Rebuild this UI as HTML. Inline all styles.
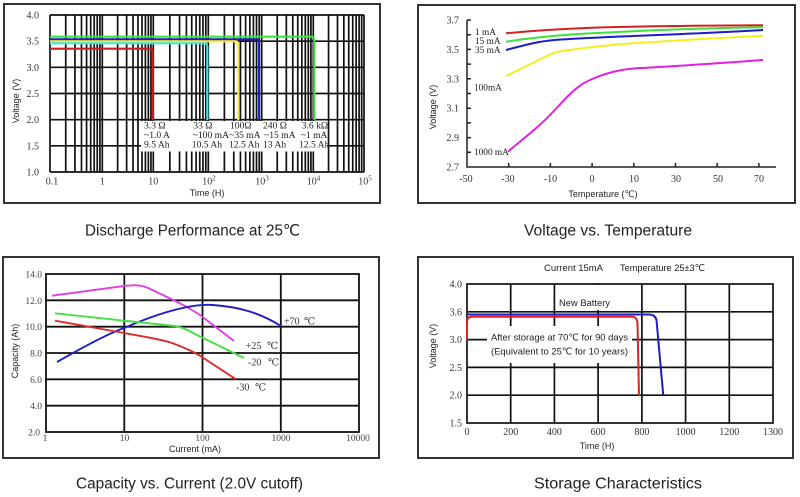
<!DOCTYPE html>
<html><head><meta charset="utf-8"><style>
html,body{margin:0;padding:0;background:#fff;}
svg{display:block;}
.sf{font-family:"Liberation Serif","DejaVu Serif","Noto Serif CJK SC",serif;}
.ss{font-family:"Liberation Sans","DejaVu Sans","Noto Sans CJK SC",sans-serif;}
</style></head><body>
<svg width="800" height="497" viewBox="0 0 800 497" xmlns="http://www.w3.org/2000/svg">
<rect width="800" height="497" fill="#fff"/>

<!-- ============ CHART 1 ============ -->
<rect x="4" y="4" width="376" height="199" fill="none" stroke="#333" stroke-width="2"/>
<g stroke="#111" stroke-width="1.7">
<path d="M50,15V172M65.74,15V172M74.95,15V172M81.49,15V172M86.56,15V172M90.7,15V172M94.2,15V172M97.23,15V172M99.91,15V172
M102.3,15V172M117.65,15V172M126.63,15V172M133.01,15V172M137.95,15V172M141.99,15V172M145.4,15V172M148.36,15V172M150.97,15V172
M153.3,15V172M169.86,15V172M179.54,15V172M186.41,15V172M191.74,15V172M196.1,15V172M199.78,15V172M202.97,15V172M205.78,15V172
M208.3,15V172M224.38,15V172M233.78,15V172M240.45,15V172M245.62,15V172M249.85,15V172M253.43,15V172M256.52,15V172M259.26,15V172
M261.7,15V172M277.23,15V172M286.32,15V172M292.77,15V172M297.77,15V172M301.85,15V172M305.31,15V172M308.3,15V172M310.94,15V172
M313.3,15V172M328.56,15V172M337.49,15V172M343.82,15V172M348.74,15V172M352.75,15V172M356.15,15V172M359.09,15V172M361.68,15V172M364,15V172"/>
<path d="M50,15H364M50,41.2H364M50,67.3H364M50,93.5H364M50,119.7H364M50,145.8H364M50,172H364"/>
</g>
<rect x="141" y="121" width="186" height="30.5" fill="#fff"/>
<g fill="none" stroke-width="2.2">
<path d="M50,36.7H311Q314.3,36.7 314.3,40V120" stroke="#3ee03e"/>
<path d="M50,39.3H256Q259,39.3 259,42.5V120" stroke="#1c1cc8"/>
<path d="M50,41.3H235Q238.3,41.3 238.3,44.5V120" stroke="#f4f020"/>
<path d="M50,43.3H204Q207.3,43.3 207.3,46.5V120" stroke="#3ee6e6"/>
<path d="M50,48.7H149.5Q152.7,48.7 152.7,52V120" stroke="#cc2020"/>
</g>
<g class="sf" font-size="9.6" fill="#222">
<text x="144" y="128.5">3.3 Ω</text><text x="144" y="138">~1.0 A</text><text x="144" y="147.5">9.5 Ah</text>
<text x="193.3" y="128.5">33 Ω</text><text x="192.7" y="138">~100 mA</text><text x="191.7" y="147.5">10.5 Ah</text>
<text x="230" y="128.5">100Ω</text><text x="229" y="138">~35 mA</text><text x="229" y="147.5">12.5 Ah</text>
<text x="263" y="128.5">240 Ω</text><text x="264" y="138">~15 mA</text><text x="263" y="147.5">13 Ah</text>
<text x="301.7" y="128.5">3.6 kΩ</text><text x="300.7" y="138">~1 mA</text><text x="299" y="147.5">12.5 Ah</text>
</g>
<g class="sf" font-size="10" fill="#333" text-anchor="end">
<text x="39" y="18.5">4.0</text><text x="39" y="44.7">3.5</text><text x="39" y="70.8">3.0</text>
<text x="39" y="97">2.5</text><text x="39" y="123.2">2.0</text><text x="39" y="149.3">1.5</text><text x="39" y="175.5">1.0</text>
</g>
<g class="sf" font-size="10" fill="#333" text-anchor="middle">
<text x="52" y="184.5">0.1</text><text x="102.3" y="184.5">1</text><text x="153.3" y="184.5">10</text>
<text x="209" y="184.5">10<tspan dy="-4" font-size="7">2</tspan></text>
<text x="262" y="184.5">10<tspan dy="-4" font-size="7">3</tspan></text>
<text x="313.5" y="184.5">10<tspan dy="-4" font-size="7">4</tspan></text>
<text x="365" y="184.5">10<tspan dy="-4" font-size="7">5</tspan></text>
</g>
<text class="ss" x="207" y="196" font-size="9" fill="#222" text-anchor="middle">Time (H)</text>
<text class="ss" font-size="9" fill="#222" text-anchor="middle" transform="translate(19,101) rotate(-90)">Voltage (V)</text>
<text class="ss" x="85" y="235.5" font-size="15.5" fill="#222" textLength="215" lengthAdjust="spacingAndGlyphs">Discharge Performance at 25℃</text>

<!-- ============ CHART 2 ============ -->
<rect x="418" y="5" width="377" height="198" fill="none" stroke="#333" stroke-width="2"/>
<g stroke="#222" stroke-width="1.5" fill="none">
<path d="M467,20V167H776"/>
<path d="M467,20h4M467,34.7h4M467,49.4h4M467,64.1h4M467,78.8h4M467,93.5h4M467,108.2h4M467,122.9h4M467,137.6h4M467,152.3h4"/>
<path d="M508.7,167v-4M550.4,167v-4M592.1,167v-4M633.8,167v-4M675.5,167v-4M717.2,167v-4M758.9,167v-4"/>
</g>
<g class="sf" font-size="10" fill="#333" text-anchor="end">
<text x="459" y="23.5">3.7</text><text x="459" y="52.9">3.5</text><text x="459" y="82.3">3.3</text>
<text x="459" y="111.7">3.1</text><text x="459" y="141.1">2.9</text><text x="459" y="170.5">2.7</text>
</g>
<g class="sf" font-size="10" fill="#333" text-anchor="middle">
<text x="466" y="182">-50</text><text x="508" y="182">-30</text><text x="550.5" y="182">-10</text>
<text x="592" y="182">0</text><text x="634" y="182">10</text><text x="676" y="182">30</text>
<text x="718" y="182">50</text><text x="759" y="182">70</text>
</g>
<text class="ss" x="603" y="197" font-size="9" fill="#222" text-anchor="middle">Temperature (℃)</text>
<text class="ss" font-size="9" fill="#222" text-anchor="middle" transform="translate(436,107) rotate(-90)">Voltage (V)</text>
<g fill="none" stroke-width="2">
<path d="M506,33.3C540,30 570,28.5 592,27.7C650,26 720,25.5 763,25.3" stroke="#d42020"/>
<path d="M506,41.7C530,38 560,35 592,33.3C650,30 720,28 763,27.3" stroke="#3ee03e"/>
<path d="M506,50C525,45 540,41 555,40C590,37 700,34 763,30" stroke="#1c1cc8"/>
<path d="M506,76L548,55.5C555,52 560,51 570,50C590,47 610,45 633,43.3C680,40 720,38 763,35.7" stroke="#f4f020"/>
<path d="M508,151.7C520,141 538,128 550,115C562,103 575,86 590,80C605,73 620,69 640,68C680,66 720,63 763,60" stroke="#e020e0"/>
</g>
<g class="sf" font-size="9.3" fill="#222">
<text x="475" y="35">1 mA</text><text x="475" y="44">15 mA</text><text x="475" y="53">35 mA</text>
<text x="474" y="90.5">100mA</text><text x="474" y="155">1000 mA</text>
</g>
<text class="ss" x="524" y="235.5" font-size="15.5" fill="#222" textLength="168" lengthAdjust="spacingAndGlyphs">Voltage vs. Temperature</text>

<!-- ============ CHART 3 ============ -->
<rect x="3" y="257" width="376" height="201" fill="none" stroke="#333" stroke-width="2"/>
<g stroke="#111" stroke-width="1.8" fill="none">
<rect x="46" y="274" width="313" height="158"/>
<path d="M124.3,274V432M202.5,274V432M280.8,274V432"/>
<path d="M46,300.3H359M46,326.7H359M46,353H359M46,379.3H359M46,405.7H359"/>
</g>
<g class="sf" font-size="9.5" fill="#444" text-anchor="end">
<text x="42" y="277.5">14.0</text><text x="42" y="303.8">12.0</text><text x="42" y="330.2">10.0</text>
<text x="42" y="356.5">8.0</text><text x="42" y="382.8">6.0</text><text x="42" y="409.2">4.0</text><text x="40" y="435.5">2.0</text>
</g>
<g class="sf" font-size="9.5" fill="#444" text-anchor="middle">
<text x="45" y="441">1</text><text x="124.5" y="441">10</text><text x="202.5" y="441">100</text>
<text x="281" y="441">1000</text><text x="358" y="441">10000</text>
</g>
<text class="ss" x="195" y="452" font-size="9" fill="#222" text-anchor="middle">Current (mA)</text>
<text class="ss" font-size="9" fill="#222" text-anchor="middle" transform="translate(18,351) rotate(-90)">Capacity (Ah)</text>
<g fill="none" stroke-width="1.9">
<path d="M52,295.7L124,286C132,285 140,284.5 148,288C165,296 185,305 200,315L234,341" stroke="#e040e0"/>
<path d="M57,362C85,346 110,333 124,328C145,319 185,303 213,305C240,307 260,313 281,326" stroke="#2020c0"/>
<path d="M55,313.3L124,320.7L175,326C182,327 188,330 195,334L244,358" stroke="#44e044"/>
<path d="M55,320.7L124,333C145,337 160,339 172,343C185,348 195,352 205,359L236,379.3" stroke="#dd2a2a"/>
</g>
<g class="sf" font-size="10" fill="#333">
<text x="284" y="324.5">+70</text><text x="304" y="324.5">℃</text>
<text x="245.7" y="349">+25</text><text x="267" y="349">℃</text>
<text x="248" y="365.5">-20</text><text x="268" y="365.5">℃</text>
<text x="236" y="390.5">-30</text><text x="255" y="390.5">℃</text>
</g>
<text class="ss" x="76" y="488.5" font-size="15.5" fill="#222" textLength="227" lengthAdjust="spacingAndGlyphs">Capacity vs. Current (2.0V cutoff)</text>

<!-- ============ CHART 4 ============ -->
<rect x="418" y="257" width="375" height="201" fill="none" stroke="#333" stroke-width="2"/>
<g stroke="#111" stroke-width="1.7" fill="none">
<rect x="467" y="284" width="306" height="139"/>
<path d="M510.7,284V423M554.4,284V423M598.1,284V423M641.9,284V423M685.6,284V423M729.3,284V423"/>
<path d="M467,311.8H773M467,339.6H773M467,367.4H773M467,395.2H773"/>
</g>
<rect x="557" y="285" width="56" height="25" fill="#fff"/>
<rect x="487" y="326" width="145" height="37" fill="#fff"/>
<g fill="none" stroke-width="2">
<path d="M467,314.5L649,314.5Q655,314.5 656.5,320L663.3,395.7" stroke="#1c1cc8"/>
<path d="M467,340L467,322Q467,316.7 472,316.7L632,316.7Q637,316.7 637.5,323L639,395.7" stroke="#dd2222"/>
</g>
<g class="ss" font-size="9.5" fill="#222">
<text x="544" y="271" textLength="59" lengthAdjust="spacingAndGlyphs">Current 15mA</text>
<text x="620" y="271" textLength="85" lengthAdjust="spacingAndGlyphs">Temperature 25±3℃</text>
<text x="559" y="306" textLength="51" lengthAdjust="spacingAndGlyphs">New Battery</text>
<text x="491" y="340.5" textLength="137" lengthAdjust="spacingAndGlyphs">After storage at 70℃ for 90 days</text>
<text x="491" y="354.5" textLength="137" lengthAdjust="spacingAndGlyphs">(Equivalent to 25℃ for 10 years)</text>
</g>
<g class="sf" font-size="10" fill="#333" text-anchor="end">
<text x="462" y="287.5">4.0</text><text x="462" y="315.3">3.6</text><text x="462" y="343.1">3.0</text>
<text x="462" y="370.9">2.5</text><text x="462" y="398.7">2.0</text><text x="462" y="426.5">1.5</text>
</g>
<g class="sf" font-size="10" fill="#333" text-anchor="middle">
<text x="467" y="435">0</text><text x="510.7" y="435">200</text><text x="554.4" y="435">400</text>
<text x="598.1" y="435">600</text><text x="641.9" y="435">800</text><text x="685.6" y="435">1000</text>
<text x="729.3" y="435">1200</text><text x="773" y="435">1300</text>
</g>
<text class="ss" x="597" y="449" font-size="9" fill="#222" text-anchor="middle">Time (H)</text>
<text class="ss" font-size="9" fill="#222" text-anchor="middle" transform="translate(436,346) rotate(-90)">Voltage (V)</text>
<text class="ss" x="534" y="488.5" font-size="15.5" fill="#222" textLength="168" lengthAdjust="spacingAndGlyphs">Storage Characteristics</text>
</svg>
</body></html>
